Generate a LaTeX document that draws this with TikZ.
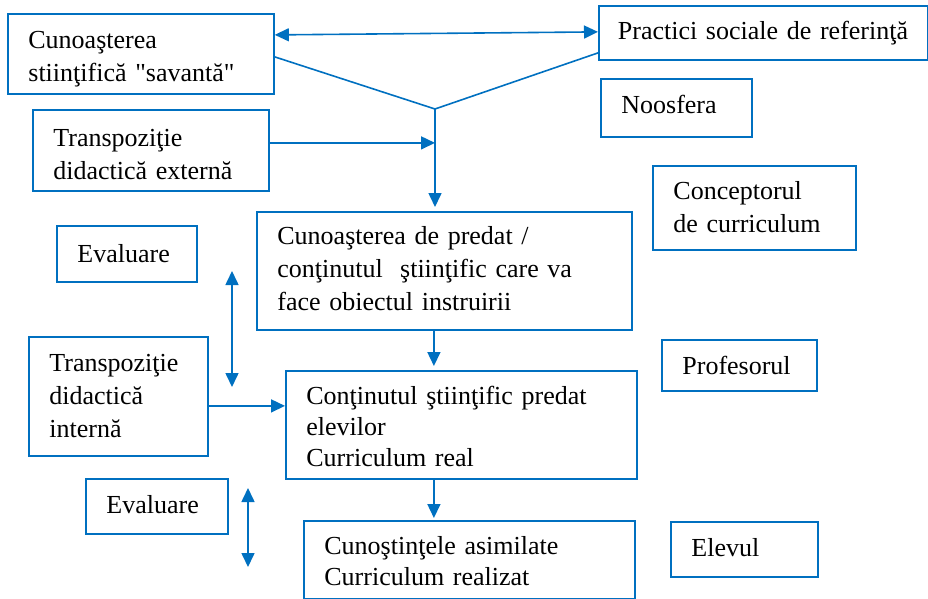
\documentclass[tikz,border=0pt]{standalone}
\usepackage{fontspec}
\setmainfont{Liberation Serif}[Ligatures=TeXOff]
\usetikzlibrary{arrows.meta,calc}
\definecolor{lineblue}{RGB}{0,112,192}
\begin{document}
\begin{tikzpicture}[x=1pt,y=-1pt,
  font=\fontsize{26}{33}\selectfont,
  box/.style={draw=lineblue, line width=1.8pt, inner xsep=20.5pt, inner ysep=0pt,
    anchor=north west, align=left},
  conn/.style={draw=lineblue, line width=1.6pt},
  arr/.style={conn, -{Triangle[length=14pt,width=13pt]}},
  darr/.style={conn, {Triangle[length=14pt,width=13pt]}-{Triangle[length=14pt,width=13pt]}}]
\useasboundingbox (0,0) rectangle (928,599);

% boxes: text height = first baseline below the top edge, text depth = the rest
\node[box, minimum width=266pt, text width=225pt, text height=35pt, text depth=45pt] (c1) at (7,13)
  {Cunoaşterea\\stiinţifică "savantă"};
\node[box, minimum width=236pt, text width=195pt, text height=37pt, text depth=44pt] (ext) at (32,109)
  {Transpoziţie\\didactică externă};
\node[box, inner xsep=19pt, minimum width=329pt, text width=291pt, text height=34pt, text depth=20pt] (prac) at (598,5)
  {\mbox{Practici sociale de referinţă}};
\node[box, minimum width=151pt, text width=110pt, text height=35pt, text depth=23pt] (noo) at (600,78)
  {Noosfera};
\node[box, minimum width=375pt, text width=334pt, text height=33pt, text depth=85pt] (pred) at (256,211)
  {Cunoaşterea de predat /\\conţinutul~ ştiinţific care va\\face obiectul instruirii};
\node[box, minimum width=203pt, text width=162pt, text height=34pt, text depth=50pt] (conc) at (652,165)
  {Conceptorul\\de curriculum};
\node[box, minimum width=140pt, text width=99pt, text height=37pt, text depth=19pt] (ev1) at (56,225)
  {Evaluare};
\node[box, minimum width=179pt, text width=138pt, text height=35pt, text depth=84pt] (int) at (28,336)
  {Transpoziţie\\didactică\\internă};
\node[box, font=\fontsize{26}{31}\selectfont, minimum width=351pt, text width=310pt, text height=34pt, text depth=74pt] (cont) at (285,370)
  {Conţinutul ştiinţific predat\\elevilor\\Curriculum real};
\node[box, minimum width=155pt, text width=114pt, text height=35pt, text depth=16pt] (prof) at (661,339)
  {Profesorul};
\node[box, minimum width=142pt, text width=101pt, text height=35pt, text depth=20pt] (ev2) at (85,478)
  {Evaluare};
\node[box, font=\fontsize{26}{31}\selectfont, minimum width=331pt, text width=290pt, text height=34pt, text depth=44pt] (cun) at (303,520)
  {Cunoştinţele asimilate\\Curriculum realizat};
\node[box, minimum width=147pt, text width=106pt, text height=35pt, text depth=20pt] (elev) at (670,521)
  {Elevul};

% junction of the two converging lines and connector end points on the boxes
\coordinate (j) at (435,109);
\coordinate (extout) at ([yshift=7.5pt]ext.east);
\coordinate (intout) at ([yshift=-9.5pt]int.east);
\coordinate (predout) at ([xshift=-10.5pt]pred.south);
\coordinate (contout) at ([xshift=-27.5pt]cont.south);

% connectors
\draw[darr] ([yshift=19pt]c1.east) -- ([yshift=1pt]prac.west);
\draw[conn] ([yshift=-3pt]c1.east) -- (j) -- ([yshift=-20pt]prac.west);
\draw[arr, shorten >=4pt] (j) -- (j |- pred.north);
\draw[arr] (extout) -- (j |- extout);
\draw[arr, shorten >=4pt] (predout) -- (predout |- cont.north);
\draw[arr] (intout) -- (cont.west |- intout);
\draw[arr, shorten >=2pt] (contout) -- (contout |- cun.north);

% evaluation double arrows
\coordinate (e1a) at (232,271);
\coordinate (e1b) at (232,387);
\coordinate (e2a) at (248,488);
\coordinate (e2b) at (248,567);
\draw[darr] (e1a) -- (e1b);
\draw[darr] (e2a) -- (e2b);
\end{tikzpicture}
\end{document}
